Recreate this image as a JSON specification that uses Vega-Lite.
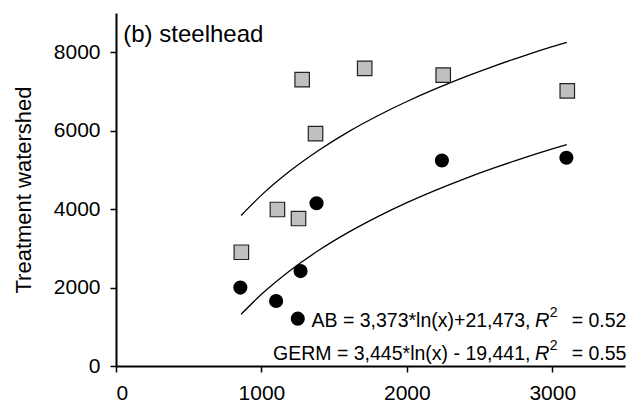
{
  "$schema": "https://vega.github.io/schema/vega-lite/v6.json",
  "width": 509,
  "height": 353,
  "autosize": {"type": "none"},
  "padding": {"left": 116, "top": 13, "right": 7, "bottom": 41},
  "background": "white",
  "config": {
    "view": {"stroke": null},
    "font": "Liberation Sans"
  },
  "datasets": {
    "points": [
      {"x": 862, "y": 2900, "group": "GERM"},
      {"x": 1110, "y": 3990, "group": "GERM"},
      {"x": 1255, "y": 3760, "group": "GERM"},
      {"x": 1280, "y": 7300, "group": "GERM"},
      {"x": 1372, "y": 5925, "group": "GERM"},
      {"x": 1710, "y": 7590, "group": "GERM"},
      {"x": 2250, "y": 7415, "group": "GERM"},
      {"x": 3103, "y": 7015, "group": "GERM"},
      {"x": 855, "y": 2000, "group": "AB"},
      {"x": 1101, "y": 1657, "group": "AB"},
      {"x": 1250, "y": 1207, "group": "AB"},
      {"x": 1269, "y": 2420, "group": "AB"},
      {"x": 1379, "y": 4150, "group": "AB"},
      {"x": 2241, "y": 5240, "group": "AB"},
      {"x": 3097, "y": 5310, "group": "AB"}
    ],
    "curves": [
      {"x": 860, "y": 1318, "series": "AB"},
      {"x": 1000, "y": 1827, "series": "AB"},
      {"x": 1200, "y": 2442, "series": "AB"},
      {"x": 1400, "y": 2962, "series": "AB"},
      {"x": 1600, "y": 3412, "series": "AB"},
      {"x": 1800, "y": 3809, "series": "AB"},
      {"x": 2000, "y": 4165, "series": "AB"},
      {"x": 2200, "y": 4486, "series": "AB"},
      {"x": 2400, "y": 4780, "series": "AB"},
      {"x": 2600, "y": 5050, "series": "AB"},
      {"x": 2800, "y": 5300, "series": "AB"},
      {"x": 3000, "y": 5533, "series": "AB"},
      {"x": 3100, "y": 5643, "series": "AB"},
      {"x": 860, "y": 3837, "series": "GERM"},
      {"x": 1000, "y": 4356, "series": "GERM"},
      {"x": 1200, "y": 4984, "series": "GERM"},
      {"x": 1400, "y": 5515, "series": "GERM"},
      {"x": 1600, "y": 5976, "series": "GERM"},
      {"x": 1800, "y": 6381, "series": "GERM"},
      {"x": 2000, "y": 6744, "series": "GERM"},
      {"x": 2200, "y": 7072, "series": "GERM"},
      {"x": 2400, "y": 7372, "series": "GERM"},
      {"x": 2600, "y": 7648, "series": "GERM"},
      {"x": 2800, "y": 7903, "series": "GERM"},
      {"x": 3000, "y": 8141, "series": "GERM"},
      {"x": 3100, "y": 8254, "series": "GERM"}
    ]
  },
  "layer": [
    {
      "data": {"name": "curves"},
      "mark": {"type": "line", "color": "black", "strokeWidth": 1.3, "interpolate": "monotone"},
      "encoding": {
        "x": {"field": "x", "type": "quantitative", "scale": {"domain": [0, 3500], "nice": false},
              "axis": {"title": null, "values": [0, 1000, 2000, 3000], "format": "d", "grid": false,
                       "domainColor": "black", "domainWidth": 2, "tickColor": "black", "tickWidth": 1.5, "tickSize": 6,
                       "labelFont": "Liberation Sans", "labelFontSize": 21, "labelColor": "black", "labelPadding": 10}},
        "y": {"field": "y", "type": "quantitative", "scale": {"domain": [0, 9000], "nice": false},
              "axis": {"title": "Treatment watershed", "values": [0, 2000, 4000, 6000, 8000], "format": "d", "grid": false,
                       "domainColor": "black", "domainWidth": 2, "tickColor": "black", "tickWidth": 1.5, "tickSize": 6,
                       "labelFont": "Liberation Sans", "labelFontSize": 21, "labelColor": "black", "labelPadding": 10,
                       "titleFont": "Liberation Sans", "titleFontSize": 22, "titleFontWeight": "normal", "titleColor": "#000000", "titlePadding": 18}},
        "detail": {"field": "series"}
      }
    },
    {
      "data": {"name": "points"},
      "transform": [{"filter": "datum.group === 'GERM'"}],
      "mark": {"type": "point", "shape": "square", "filled": true, "fill": "#c0c0c0", "stroke": "#222222", "strokeWidth": 1.2, "size": 210, "opacity": 1},
      "encoding": {
        "x": {"field": "x", "type": "quantitative"},
        "y": {"field": "y", "type": "quantitative"}
      }
    },
    {
      "data": {"name": "points"},
      "transform": [{"filter": "datum.group === 'AB'"}],
      "mark": {"type": "circle", "color": "black", "size": 200, "opacity": 1},
      "encoding": {
        "x": {"field": "x", "type": "quantitative"},
        "y": {"field": "y", "type": "quantitative"}
      }
    },
    {
      "data": {"values": [{"t": "(b) steelhead"}]},
      "mark": {"type": "text", "align": "left", "baseline": "alphabetic", "fontSize": 24, "color": "black"},
      "encoding": {"x": {"datum": 50}, "y": {"datum": 8270}, "text": {"field": "t"}}
    },
    {
      "data": {"values": [{"t": "AB = 3,373*ln(x)+21,473,"}]},
      "mark": {"type": "text", "align": "right", "baseline": "alphabetic", "fontSize": 19.5, "color": "black", "dx": -96},
      "encoding": {"x": {"datum": 3510}, "y": {"datum": 994}, "text": {"field": "t"}}
    },
    {
      "data": {"values": [{"t": "R"}]},
      "mark": {"type": "text", "align": "right", "baseline": "alphabetic", "fontSize": 20, "fontStyle": "italic", "color": "black", "dx": -77},
      "encoding": {"x": {"datum": 3510}, "y": {"datum": 994}, "text": {"field": "t"}}
    },
    {
      "data": {"values": [{"t": "2"}]},
      "mark": {"type": "text", "align": "right", "baseline": "alphabetic", "fontSize": 14, "color": "black", "dx": -69, "dy": -10},
      "encoding": {"x": {"datum": 3510}, "y": {"datum": 994}, "text": {"field": "t"}}
    },
    {
      "data": {"values": [{"t": "= 0.52"}]},
      "mark": {"type": "text", "align": "right", "baseline": "alphabetic", "fontSize": 19.5, "color": "black"},
      "encoding": {"x": {"datum": 3510}, "y": {"datum": 994}, "text": {"field": "t"}}
    },
    {
      "data": {"values": [{"t": "GERM = 3,445*ln(x) - 19,441,"}]},
      "mark": {"type": "text", "align": "right", "baseline": "alphabetic", "fontSize": 19.5, "color": "black", "dx": -96},
      "encoding": {"x": {"datum": 3510}, "y": {"datum": 163}, "text": {"field": "t"}}
    },
    {
      "data": {"values": [{"t": "R"}]},
      "mark": {"type": "text", "align": "right", "baseline": "alphabetic", "fontSize": 20, "fontStyle": "italic", "color": "black", "dx": -77},
      "encoding": {"x": {"datum": 3510}, "y": {"datum": 163}, "text": {"field": "t"}}
    },
    {
      "data": {"values": [{"t": "2"}]},
      "mark": {"type": "text", "align": "right", "baseline": "alphabetic", "fontSize": 14, "color": "black", "dx": -69, "dy": -10},
      "encoding": {"x": {"datum": 3510}, "y": {"datum": 163}, "text": {"field": "t"}}
    },
    {
      "data": {"values": [{"t": "= 0.55"}]},
      "mark": {"type": "text", "align": "right", "baseline": "alphabetic", "fontSize": 19.5, "color": "black"},
      "encoding": {"x": {"datum": 3510}, "y": {"datum": 163}, "text": {"field": "t"}}
    }
  ]
}
